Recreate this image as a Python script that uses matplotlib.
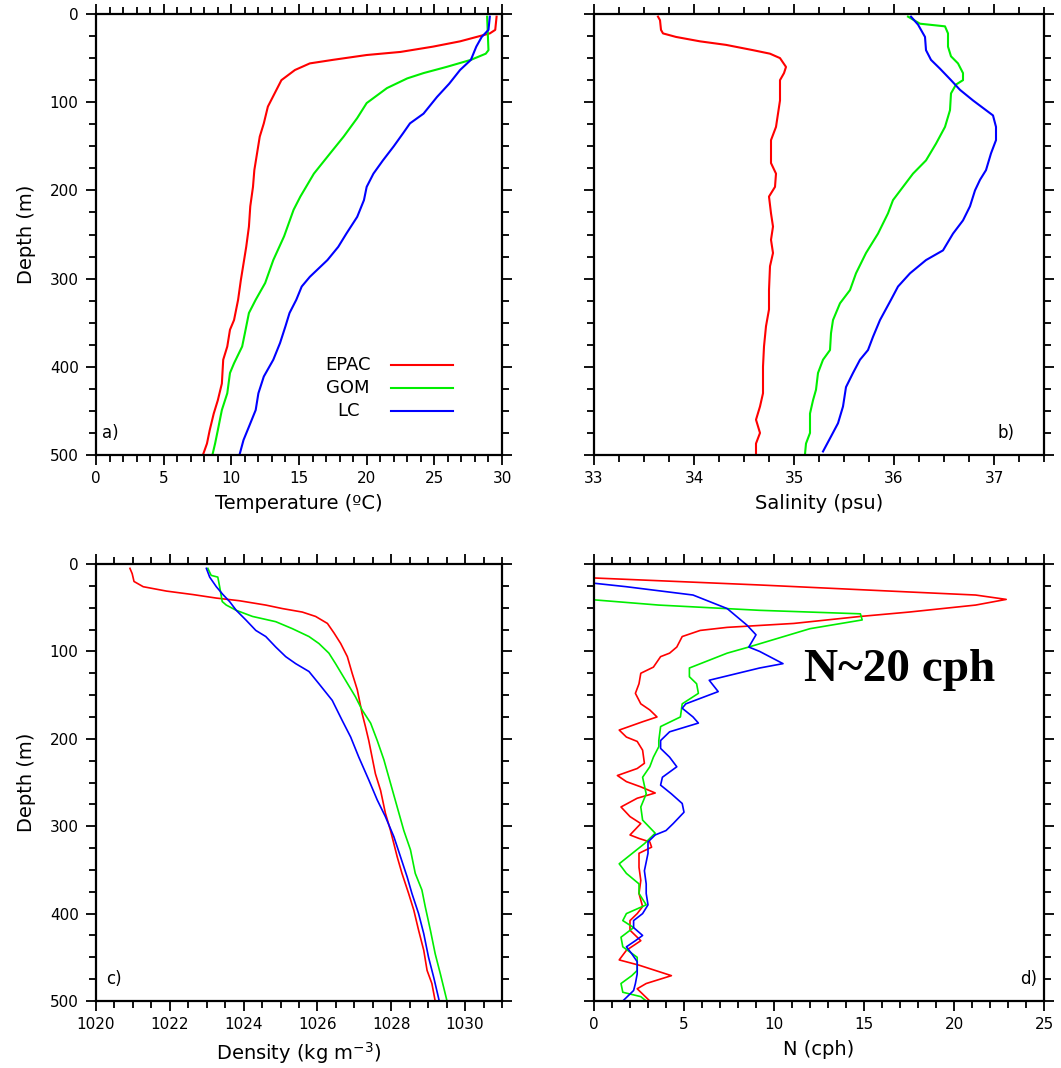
import numpy as np
import matplotlib
matplotlib.use("Agg")
import matplotlib.pyplot as plt
from matplotlib.ticker import MultipleLocator

# ---- a) Temperature (degC) vs depth (m)
temp_epac_z = [3, 18, 22, 31, 37, 43, 46.5, 52, 56, 63.5, 75, 90, 105, 124, 139, 158, 177, 196,
               218, 241, 264, 283, 302, 324, 347, 358, 377, 392, 419, 438, 453, 472, 487, 500]
temp_epac = [29.6, 29.5, 29.1, 26.9, 24.9, 22.5, 20.0, 17.5, 15.8, 14.7, 13.7, 13.2, 12.7, 12.4,
             12.1, 11.9, 11.7, 11.6, 11.4, 11.3, 11.1, 10.9, 10.7, 10.5, 10.2, 9.9, 9.7, 9.4,
             9.3, 9.0, 8.7, 8.4, 8.2, 7.9]
temp_gom_z = [3, 41, 45, 52, 60, 67, 73, 84, 101, 118, 139, 158, 181, 207, 222, 252, 279, 305,
              324, 339, 362, 377, 396, 407, 430, 449, 472, 487, 500]
temp_gom = [28.9, 29.0, 28.8, 27.7, 25.9, 24.2, 23.0, 21.5, 20.0, 19.3, 18.3, 17.3, 16.1, 15.1,
            14.6, 13.9, 13.1, 12.5, 11.8, 11.3, 11.0, 10.8, 10.2, 9.9, 9.7, 9.3, 9.0, 8.8, 8.6]
temp_lc_z = [3, 18, 26, 37, 52, 63.5, 79, 94, 113, 124, 135, 150, 166, 181, 196, 211, 230, 249,
             264, 279, 298, 309, 324, 339, 354, 373, 392, 411, 430, 449, 468, 483, 500]
temp_lc = [29.1, 29.0, 28.5, 28.1, 27.7, 26.9, 26.1, 25.2, 24.2, 23.2, 22.7, 22.0, 21.2, 20.5,
           20.0, 19.8, 19.3, 18.5, 17.9, 17.1, 15.8, 15.2, 14.8, 14.3, 14.0, 13.6, 13.1, 12.4,
           12.0, 11.8, 11.3, 10.9, 10.6]

# ---- b) Salinity (psu)
sal_epac_z = [3, 7, 18, 22, 26, 31, 35, 41, 45, 50, 60, 67, 75, 98, 113, 128, 143, 169, 181, 196,
              207, 226, 241, 256, 271, 286, 313, 335, 354, 377, 400, 430, 445, 460, 475, 487, 499]
sal_epac = [33.64, 33.66, 33.67, 33.69, 33.82, 34.06, 34.32, 34.59, 34.76, 34.86, 34.92, 34.90,
            34.86, 34.86, 34.84, 34.82, 34.77, 34.77, 34.82, 34.81, 34.75, 34.77, 34.79, 34.77,
            34.79, 34.76, 34.75, 34.75, 34.72, 34.70, 34.69, 34.69, 34.66, 34.62, 34.66, 34.62,
            34.62]
sal_gom_z = [3, 11, 14, 22, 37, 48, 56, 67, 75, 80, 90, 109, 128, 147, 166, 181, 196, 211, 226,
             249, 271, 294, 313, 328, 347, 362, 381, 392, 407, 426, 438, 453, 475, 487, 499]
sal_gom = [36.14, 36.26, 36.51, 36.54, 36.54, 36.57, 36.64, 36.69, 36.69, 36.62, 36.57, 36.56,
           36.51, 36.42, 36.32, 36.19, 36.09, 35.99, 35.94, 35.84, 35.72, 35.62, 35.56, 35.46,
           35.39, 35.37, 35.36, 35.29, 35.24, 35.22, 35.19, 35.16, 35.16, 35.12, 35.11]
sal_lc_z = [3, 12, 26, 41, 52, 62, 75, 86, 98, 115, 128, 143, 158, 177, 188, 200, 218, 234, 249,
            268, 279, 294, 309, 324, 347, 366, 381, 392, 407, 423, 445, 464, 479, 496]
sal_lc = [36.17, 36.24, 36.31, 36.32, 36.37, 36.46, 36.57, 36.66, 36.79, 36.99, 37.02, 37.02,
          36.97, 36.92, 36.86, 36.81, 36.76, 36.69, 36.59, 36.49, 36.32, 36.16, 36.04, 35.97,
          35.86, 35.79, 35.74, 35.66, 35.59, 35.52, 35.49, 35.44, 35.37, 35.29]

# ---- c) Density (kg m-3)
rho_epac_z = [5, 11, 20, 26, 31, 35, 39, 42, 47, 51, 55, 60, 68, 79, 91, 106, 125, 144, 171, 186,
              202, 221, 240, 259, 285, 305, 335, 354, 377, 396, 419, 442, 465, 480, 500]
rho_epac = [1020.92, 1020.98, 1021.03, 1021.28, 1021.91, 1022.63, 1023.26, 1023.88, 1024.60,
            1025.05, 1025.59, 1025.95, 1026.27, 1026.45, 1026.63, 1026.81, 1026.94, 1027.08,
            1027.21, 1027.30, 1027.39, 1027.48, 1027.57, 1027.71, 1027.84, 1027.98, 1028.16,
            1028.29, 1028.47, 1028.61, 1028.74, 1028.88, 1028.97, 1029.10, 1029.19]
rho_gom_z = [5, 13, 15, 26, 43, 47, 53, 60, 66, 74, 83, 91, 102, 114, 133, 152, 167, 182, 202,
             224, 251, 278, 305, 327, 354, 373, 392, 419, 446, 469, 500]
rho_gom = [1023.03, 1023.12, 1023.30, 1023.35, 1023.42, 1023.53, 1023.80, 1024.24, 1024.87,
           1025.32, 1025.77, 1026.04, 1026.31, 1026.49, 1026.76, 1027.03, 1027.21, 1027.44,
           1027.62, 1027.80, 1027.98, 1028.16, 1028.34, 1028.52, 1028.65, 1028.83, 1028.92,
           1029.06, 1029.19, 1029.33, 1029.51]
rho_lc_z = [5, 15, 26, 35, 43, 53, 64, 76, 83, 95, 106, 114, 123, 137, 156, 179, 198, 221, 247,
            270, 289, 312, 335, 358, 377, 400, 423, 450, 473, 500]
rho_lc = [1022.99, 1023.08, 1023.26, 1023.44, 1023.62, 1023.80, 1024.06, 1024.33, 1024.60,
          1024.87, 1025.14, 1025.41, 1025.77, 1026.04, 1026.40, 1026.67, 1026.90, 1027.12,
          1027.39, 1027.62, 1027.84, 1028.07, 1028.25, 1028.43, 1028.56, 1028.74, 1028.88,
          1029.01, 1029.15, 1029.30]

# ---- d) Buoyancy frequency N (cph)
n_epac_z = [0, 16, 24, 32, 35.5, 40.5, 47, 55, 60, 68, 72.5, 76, 83, 95, 102, 106, 118, 125, 137,
            148, 160, 167, 175, 180.5, 190, 198, 203, 213, 228, 234, 242, 249, 255, 262, 268,
            278, 289, 297, 310, 314, 318, 324, 331, 347, 362, 377, 392, 400, 408, 419, 431,
            442, 453, 459, 471, 480, 486, 494, 500]
n_epac = [0, 0, 9.2, 17.5, 21.2, 22.9, 21.2, 17.5, 14.8, 11.1, 7.4, 5.9, 4.9, 4.6, 4.2, 3.7, 3.3,
          2.6, 2.5, 2.3, 2.6, 3.1, 3.5, 2.7, 1.4, 1.8, 2.4, 2.7, 2.8, 2.4, 1.3, 1.8, 2.6, 3.4,
          2.4, 1.5, 2.0, 2.6, 2.0, 2.5, 3.1, 3.2, 2.5, 2.5, 2.6, 2.5, 2.7, 2.4, 2.0, 2.0, 2.6,
          1.8, 1.4, 2.5, 4.3, 2.9, 2.4, 2.8, 3.1]
n_gom_z = [0, 41, 47, 53, 57, 64, 74, 95, 102, 119, 129, 137, 148, 160, 175, 186, 202, 209, 221,
           232, 244, 263, 278, 293, 308, 320, 343, 354, 366, 377, 390, 400, 408, 416, 427, 438,
           450, 465, 471, 480, 490, 495, 500]
n_gom = [0, 0, 3.6, 9.2, 14.8, 14.9, 12.0, 8.6, 7.4, 5.3, 5.3, 5.7, 5.8, 4.9, 4.8, 3.7, 3.6, 3.6,
         3.3, 3.1, 2.7, 2.9, 2.6, 2.7, 3.4, 2.8, 1.4, 1.8, 2.5, 2.5, 2.9, 1.8, 1.6, 2.2, 1.5, 1.6,
         2.4, 2.4, 2.1, 1.5, 1.6, 2.6, 2.9]
n_lc_z = [0, 22, 26, 35.5, 51, 70, 81, 95, 100, 114, 119, 133, 146, 160, 165, 175, 182, 192, 202,
          211, 221, 232, 244, 253, 263, 274, 284, 297, 305, 310, 318, 331, 351, 366, 377, 390,
          400, 408, 416, 425, 431, 438, 446, 455, 469, 480, 488, 500]
n_lc = [0, 0, 1.8, 5.5, 7.4, 8.5, 9.0, 8.6, 9.2, 10.5, 9.2, 6.4, 6.9, 5.1, 4.9, 5.5, 5.8, 4.2, 3.7,
        3.7, 4.2, 4.6, 3.8, 3.7, 4.3, 4.9, 5.0, 4.4, 4.0, 3.4, 3.0, 3.0, 2.8, 2.9, 2.9, 3.0, 2.7,
        2.2, 2.2, 2.7, 2.3, 1.8, 2.1, 2.4, 2.4, 2.3, 2.2, 1.6]

names = ["EPAC", "GOM", "LC"]
colors = ["#ff0000", "#00ee00", "#0000ff"]

plt.rcParams['font.family'] = ['DejaVu Sans']

fig = plt.figure(figsize=(10.61, 10.68), dpi=100)
W, H = 1061, 1068


def make_ax(x0, y0, x1, y1):
    return fig.add_axes([x0 / W, 1 - y1 / H, (x1 - x0) / W, (y1 - y0) / H])


ax_a = make_ax(96, 14, 502, 455)
ax_b = make_ax(594, 14, 1044, 455)
ax_c = make_ax(96, 564, 502, 1001)
ax_d = make_ax(594, 564, 1044, 1001)


def style(ax, xlim, major, minor, xlabel, show_y):
    ax.set_xlim(*xlim)
    ax.set_ylim(500, 0)
    ax.xaxis.set_major_locator(MultipleLocator(major))
    ax.xaxis.set_minor_locator(MultipleLocator(minor))
    ax.yaxis.set_major_locator(MultipleLocator(100))
    ax.yaxis.set_minor_locator(MultipleLocator(25))
    ax.tick_params(which='both', direction='out', top=True, right=True, width=1.3)
    ax.tick_params(which='major', length=7.5)
    ax.tick_params(which='minor', length=5)
    ax.tick_params(axis='x', labelsize=11, pad=4)
    ax.tick_params(axis='y', labelsize=11, pad=5, labelleft=show_y)
    for s in ax.spines.values():
        s.set_linewidth(1.6)
    ax.set_xlabel(xlabel, fontsize=14, labelpad=6)
    if show_y:
        ax.set_ylabel("Depth (m)", fontsize=14, labelpad=10)


panels = [
    (ax_a, [(temp_epac, temp_epac_z), (temp_gom, temp_gom_z), (temp_lc, temp_lc_z)], 1.5),
    (ax_b, [(sal_epac, sal_epac_z), (sal_gom, sal_gom_z), (sal_lc, sal_lc_z)], 1.5),
    (ax_c, [(rho_epac, rho_epac_z), (rho_gom, rho_gom_z), (rho_lc, rho_lc_z)], 1.2),
    (ax_d, [(n_epac, n_epac_z), (n_gom, n_gom_z), (n_lc, n_lc_z)], 1.2),
]
for ax, series, lw in panels:
    for (x, z), c in zip(series, colors):
        ax.plot(x, z, color=c, lw=lw)

style(ax_a, (0, 30), 5, 1, "Temperature (\u00baC)", True)
style(ax_b, (33, 37.5), 1, 0.25, "Salinity (psu)", False)
style(ax_c, (1020, 1031), 2, 0.5, "Density (kg m$^{-3}$)", True)
style(ax_d, (0, 25), 5, 1, "N (cph)", False)

# panel letters
ax_a.text(0.015, 0.05, "a)", transform=ax_a.transAxes, fontsize=12, va='center')
ax_b.text(0.935, 0.05, "b)", transform=ax_b.transAxes, fontsize=12, va='center', ha='right')
ax_c.text(0.025, 0.05, "c)", transform=ax_c.transAxes, fontsize=12, va='center')
ax_d.text(0.985, 0.05, "d)", transform=ax_d.transAxes, fontsize=12, va='center', ha='right')

# legend (text centred, line to the right) in panel a
for i, (name, c) in enumerate(zip(names, colors)):
    yy = 0.204 - i * 0.052
    ax_a.text(0.621, yy, name, transform=ax_a.transAxes, fontsize=13, ha='center', va='center')
    ax_a.plot([0.727, 0.879], [yy, yy], transform=ax_a.transAxes, color=c, lw=1.5)

ax_d.text(0.68, 0.757, "N~20 cph", transform=ax_d.transAxes, fontsize=34, fontweight='bold',
          family=['Liberation Serif'], ha='center', va='center')

fig.savefig("out.png", dpi=100)
